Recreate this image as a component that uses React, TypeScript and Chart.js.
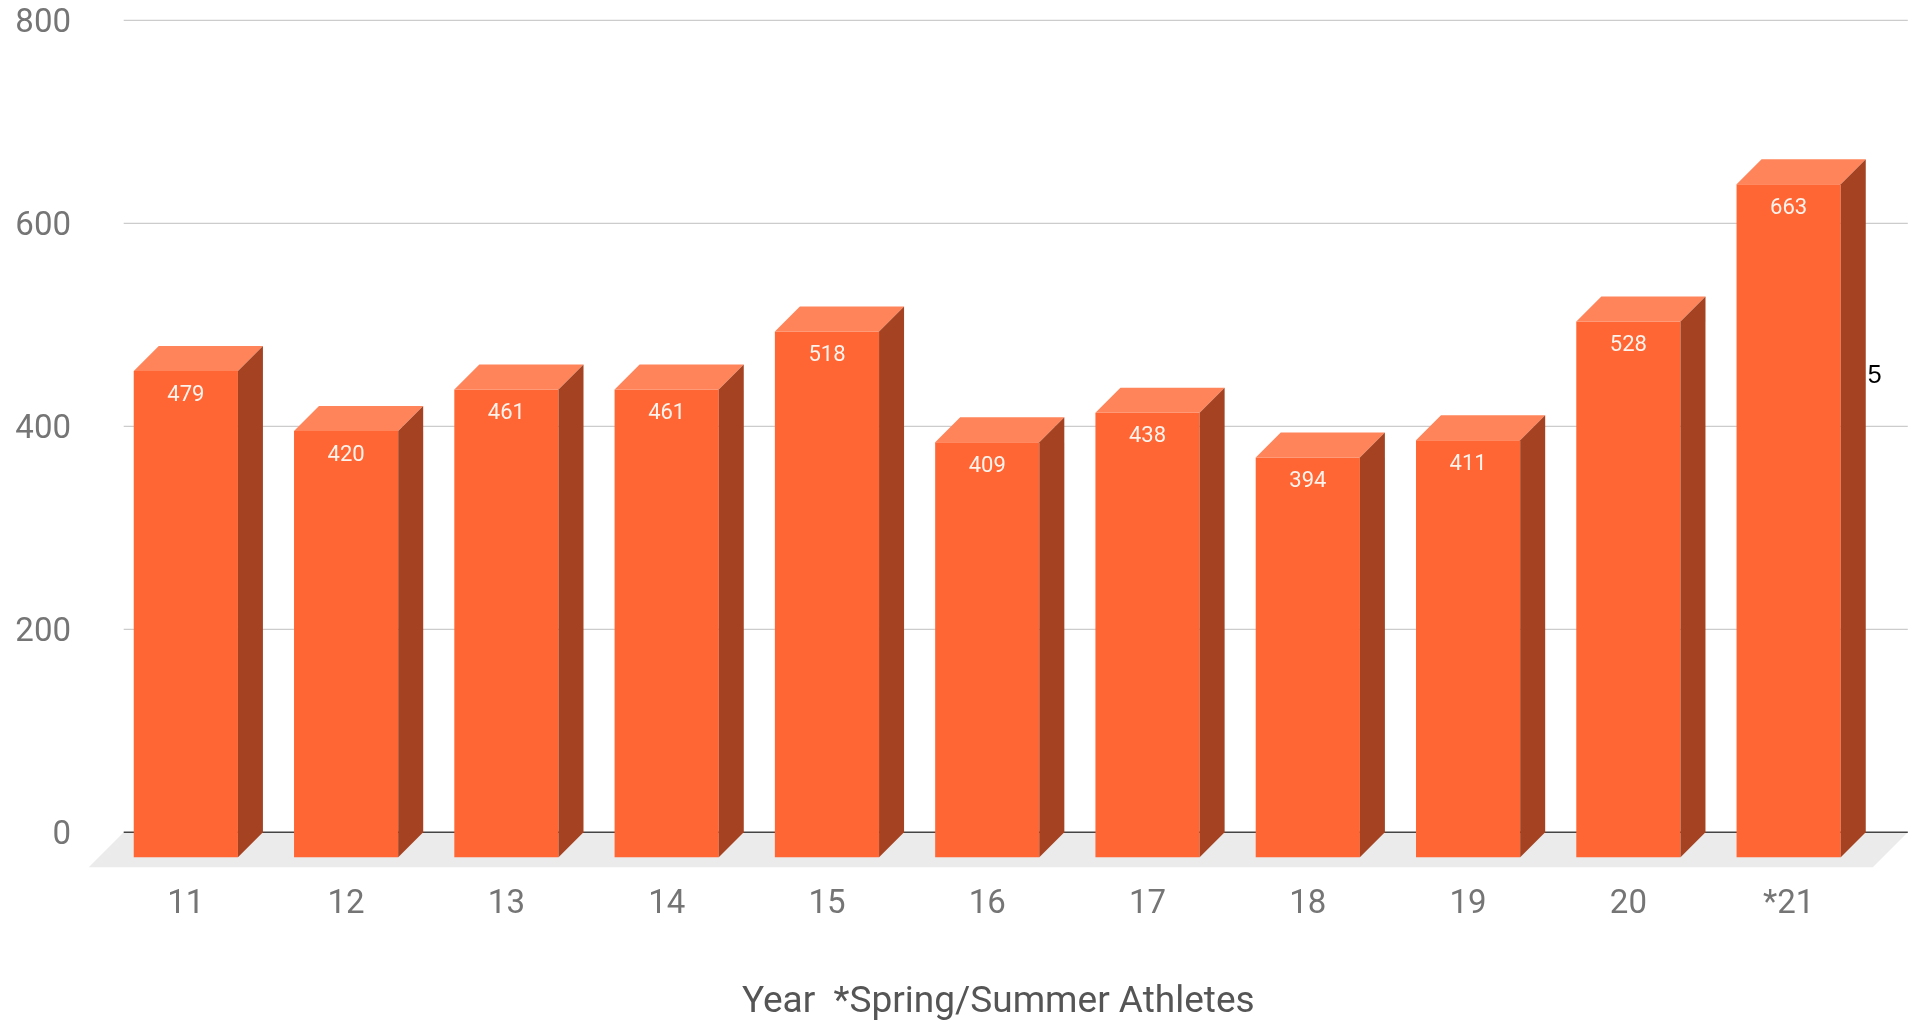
import React, { useEffect, useRef } from "react";
import { Chart, registerables } from "chart.js";

Chart.register(...registerables);

// ---- data ----
const categories = ["11", "12", "13", "14", "15", "16", "17", "18", "19", "20", "*21"];
const athletes = [479, 420, 461, 461, 518, 409, 438, 394, 411, 528, 663];
const yTickValues = [0, 200, 400, 600, 800];
const axisTitle = "Year  *Spring/Summer Athletes";
const strayLabel = "5";

// ---- style ----
const FRONT = "#FF6633";
const TOP = "#FF845A";
const SIDE = "#A44221";
const DEPTH = 25;
const FLOOR_DEPTH = 35;
const FONT = "Roboto";

const threeD = {
  id: "threeD",
  beforeDatasetsDraw(chart: any) {
    const { ctx, chartArea, scales } = chart;
    const y = scales.y;
    const base = y.getPixelForValue(0);
    const backL = chartArea.left + DEPTH - 7;
    const backR = chartArea.right + DEPTH + 14;
    const backY = base - DEPTH;
    ctx.save();
    // floor
    ctx.fillStyle = "#EBEBEB";
    ctx.beginPath();
    ctx.moveTo(backL, backY);
    ctx.lineTo(backR, backY);
    ctx.lineTo(backR - FLOOR_DEPTH, backY + FLOOR_DEPTH);
    ctx.lineTo(backL - FLOOR_DEPTH, backY + FLOOR_DEPTH);
    ctx.closePath();
    ctx.fill();
    // gridlines on back plane
    ctx.lineWidth = 1.3;
    ctx.strokeStyle = "#CCCCCC";
    yTickValues.forEach((v) => {
      if (v === 0) return;
      const py = y.getPixelForValue(v) - DEPTH;
      ctx.beginPath();
      ctx.moveTo(backL, py);
      ctx.lineTo(backR, py);
      ctx.stroke();
    });
    // zero line
    ctx.lineWidth = 1.6;
    ctx.strokeStyle = "#444444";
    ctx.beginPath();
    ctx.moveTo(backL, backY);
    ctx.lineTo(backR, backY);
    ctx.stroke();
    ctx.restore();
  },
  afterDatasetsDraw(chart: any) {
    const { ctx } = chart;
    const meta = chart.getDatasetMeta(0);
    ctx.save();
    meta.data.forEach((bar: any, i: number) => {
      const { x, y, base, width } = bar.getProps(["x", "y", "base", "width"], true);
      const l = x - width / 2;
      const r = x + width / 2;
      // top face
      ctx.fillStyle = TOP;
      ctx.beginPath();
      ctx.moveTo(l, y);
      ctx.lineTo(l + DEPTH, y - DEPTH);
      ctx.lineTo(r + DEPTH, y - DEPTH);
      ctx.lineTo(r, y);
      ctx.closePath();
      ctx.fill();
      // side face
      ctx.fillStyle = SIDE;
      ctx.beginPath();
      ctx.moveTo(r, y);
      ctx.lineTo(r + DEPTH, y - DEPTH);
      ctx.lineTo(r + DEPTH, base - DEPTH);
      ctx.lineTo(r, base);
      ctx.closePath();
      ctx.fill();
      // value label
      ctx.fillStyle = "#FFF3EE";
      ctx.font = `22px ${FONT}`;
      ctx.textAlign = "center";
      ctx.textBaseline = "middle";
      ctx.fillText(String(athletes[i]), x, y + 24);
    });
    ctx.restore();
  },
  afterDraw(chart: any) {
    const { ctx, chartArea } = chart;
    ctx.save();
    // axis title
    ctx.fillStyle = "#555555";
    ctx.font = `37px ${FONT}`;
    ctx.textAlign = "center";
    ctx.textBaseline = "middle";
    ctx.fillText(axisTitle, (chartArea.left + chartArea.right) / 2 + 11, 1002.5);
    // stray label
    ctx.fillStyle = "#000000";
    ctx.font = `25px "Liberation Sans", Arial, sans-serif`;
    ctx.fillText(strayLabel, chartArea.right + 6, 376);
    ctx.restore();
  },
};

export default function App() {
  const ref = useRef<HTMLCanvasElement | null>(null);
  useEffect(() => {
    if (!ref.current) return;
    const chart = new Chart(ref.current, {
      type: "bar",
      data: {
        labels: categories,
        datasets: [
          {
            data: athletes,
            backgroundColor: FRONT,
            borderWidth: 0,
            barPercentage: 0.65,
            categoryPercentage: 1,
            clip: false as any,
          },
        ],
      },
      options: {
        responsive: false,
        animation: false,
        devicePixelRatio: 1,
        layout: { padding: { top: 45.3, right: 46.2, bottom: 0, left: 0 } },
        plugins: {
          legend: { display: false },
          tooltip: { enabled: false },
          title: { display: false },
        },
        scales: {
          x: {
            offset: true,
            grid: { display: false, drawTicks: false },
            border: { display: false },
            ticks: {
              color: "#757575",
              font: { family: FONT, size: 33 },
              padding: 28,
              maxRotation: 0,
              autoSkip: false,
            },
            afterFit: (s: any) => {
              s.height = 1021 - 857.3;
            },
          },
          y: {
            min: 0,
            max: 800,
            afterBuildTicks: (s: any) => {
              s.ticks = yTickValues.map((v) => ({ value: v }));
            },
            grid: { display: false, drawTicks: false },
            border: { display: false },
            ticks: {
              color: "#757575",
              font: { family: FONT, size: 33 },
              padding: 34.7,
              labelOffset: -21.3,
            },
            afterFit: (s: any) => {
              s.width = 105.7;
              s.paddingTop = 0;
              s.paddingBottom = 0;
            },
          },
        },
      },
      plugins: [threeD],
    });
    return () => chart.destroy();
  }, []);
  return (
    <div style={{ position: "fixed", left: 0, top: 0, width: 1915, height: 1021, background: "#fff" }}>
      <canvas ref={ref} width={1915} height={1021} style={{ display: "block" }} />
    </div>
  );
}
